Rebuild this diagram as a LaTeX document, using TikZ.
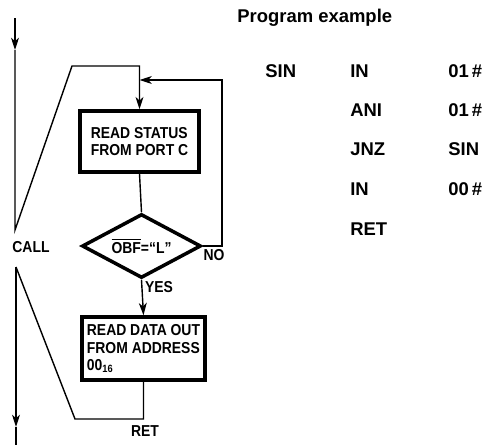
\documentclass[tikz,border=0pt]{standalone}
\usepackage{fontspec}
\setmainfont{Liberation Sans}
\newfontfamily\flowfont[FakeStretch=0.88]{Liberation Sans}
\usetikzlibrary{arrows.meta,shapes.geometric}

\begin{document}
\begin{tikzpicture}[x=0.02cm, y=-0.02cm,
    >={Stealth[length=7pt,width=4.5pt,inset=2pt]},
    font=\flowfont\bfseries\fontsize{9}{10}\selectfont,
    box/.style={draw, line width=2pt, minimum width=2.38cm, minimum height=1.22cm, align=left, inner sep=2pt},
    cond/.style={diamond, draw, line width=2pt, minimum width=2.38cm, minimum height=1.28cm, inner sep=0pt, aspect=1.9},
    flow/.style={line width=0.8pt},
    prog/.style={anchor=west, inner sep=0pt, font=\normalfont\bfseries\fontsize{10.5}{12}\selectfont}]

    % Rozmer obrazku (v pixelech)
    \useasboundingbox (0,0) rectangle (488,447);

    % 1. Bloky vyvojoveho diagramu
    \node[box] (status) at (139.5,141.5) {READ STATUS\\FROM PORT C};
    \node[cond] (obf) at (141.5,246) {$\overline{\hbox{OBF}}$=“L”};
    \node[box, minimum width=2.46cm, minimum height=1.26cm] (data) at (143.5,348.5) {READ DATA OUT\\FROM ADDRESS\\00\textsubscript{16}};

    % 2. Body pro volani a navrat
    \coordinate (call0) at (15,18);
    \coordinate (callm) at (15,50);
    \coordinate (call1) at (15,230);
    \coordinate (top) at (72,66);
    \coordinate (noloop) at (222,80);
    \coordinate (retc) at (75,419);
    \coordinate (ret0) at (16,267);
    \coordinate (retm) at (16,427);
    \coordinate (ret1) at (16,445);

    % 3. Spojnice
    \draw[flow, ->] (call0) -- (callm);
    \draw[flow, ->] (callm) -- (call1) -- (top) -- (status.north |- top) -- (status.north);
    \draw[flow] (status.south) -- (obf.north);
    \draw[flow, ->] (obf.east) -| (noloop) -- (status.north |- noloop);
    \draw[flow, ->] (obf.south) -- (data.north);
    \draw[flow] (data.south) |- (retc) -- (ret0);
    \draw[flow, ->] (ret0) -- (retm);
    \draw[flow] (retm) -- (ret1);

    % 4. Popisky
    \node (call) at (31,247) {CALL};
    \node (no) at (214,255) {NO};
    \node (yes) at (159,287) {YES};
    \node (ret) at (145,431) {RET};

    % 5. Program
    \node[prog] (title) at (237,18) {Program example};
    \node[prog] (sin) at (265,71) {SIN};
    \foreach \y/\op/\arg [count=\i] in {71/IN/{01\,\#}, 110/ANI/{01\,\#}, 149/JNZ/SIN, 189/IN/{00\,\#}, 229/RET/{}} {
        \node[prog] (op\i) at (350,\y) {\op};
        \node[prog] (arg\i) at (448,\y) {\arg};
    }

\end{tikzpicture}
\end{document}
